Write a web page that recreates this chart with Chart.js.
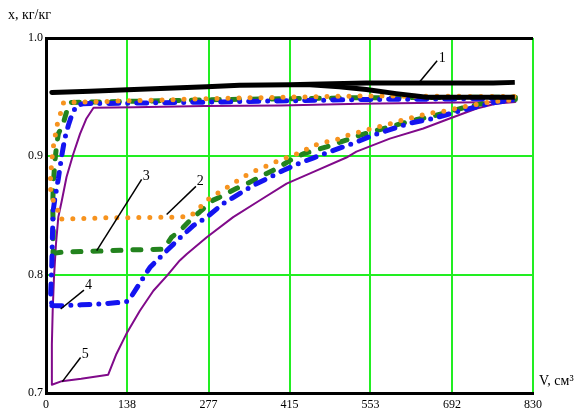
<!DOCTYPE html>
<html><head><meta charset="utf-8">
<script src="https://cdn.jsdelivr.net/npm/chart.js@4"></script>
<style>html,body{margin:0;padding:0;background:#fff}canvas{display:block}</style>
</head><body>
<canvas id="c" width="581" height="412"></canvas>
<script>
// axis ticks
const xTicks = [0, 138, 277, 415, 553, 692, 830];
const yTicks = [0.7, 0.8, 0.9, 1.0];
const yTickLabels = ['0.7', '0.8', '0.9', '1.0'];

// curve 1 (black): lower branch from right to left, then upper branch left to right
const c1V = [799, 649, 597, 546, 500, 450, 416, 330, 274, 150, 75, 10, 75, 150, 274, 330, 416, 450, 546, 608, 762, 799];
const c1X = [0.950, 0.950, 0.953, 0.9565, 0.9588, 0.9605, 0.9605, 0.960, 0.9588, 0.9565, 0.955, 0.954, 0.955, 0.9565, 0.9588, 0.960, 0.9605, 0.961, 0.962, 0.962, 0.962, 0.9625];

// curve 2 (orange, dotted)
const c2V = [27, 100, 208, 245, 257, 274, 293, 316, 336, 356, 376, 395, 416, 436, 455, 475, 495, 515, 535, 555, 575, 597, 617, 634, 657, 677, 694, 714, 734, 756, 800, 800, 535, 300, 150, 30, 24, 18, 15, 11.4, 8, 7, 10, 27];
const c2X = [0.847, 0.848, 0.8485, 0.849, 0.854, 0.863, 0.869, 0.876, 0.8825, 0.8876, 0.8918, 0.896, 0.900, 0.9037, 0.909, 0.912, 0.914, 0.9178, 0.9206, 0.9235, 0.926, 0.929, 0.932, 0.934, 0.9367, 0.938, 0.940, 0.942, 0.944, 0.946, 0.948, 0.9505, 0.951, 0.949, 0.947, 0.9455, 0.935, 0.925, 0.915, 0.905, 0.884, 0.875, 0.8655, 0.847];

// curve 3 (green, dashed)
const c3V = [12, 27, 92, 150, 200, 214, 228, 251, 262, 285, 296, 325, 347, 370, 393, 416, 438, 478, 501, 540, 586, 626, 665, 711, 745, 800, 800, 535, 300, 150, 41, 35, 29.5, 21, 18, 15, 12.4, 11.4, 12.4, 12];
const c3X = [0.818, 0.819, 0.820, 0.821, 0.8215, 0.8316, 0.837, 0.8486, 0.853, 0.863, 0.8655, 0.873, 0.878, 0.884, 0.8896, 0.8966, 0.902, 0.908, 0.912, 0.9186, 0.925, 0.9305, 0.9347, 0.941, 0.9447, 0.948, 0.950, 0.9495, 0.948, 0.9465, 0.9455, 0.9375, 0.928, 0.919, 0.909, 0.895, 0.8755, 0.858, 0.839, 0.818];

// curve 4 (blue, dash-dot)
const c4V = [10, 21, 60, 100, 137, 146, 160, 177, 200, 226, 251, 274, 302, 325, 353, 376, 404, 430, 455, 484, 529, 558, 586, 620, 660, 700, 734, 756, 800, 800, 700, 535, 300, 150, 64, 52, 44, 38, 32, 27, 21, 15, 12, 11, 10, 8, 10];
const c4X = [0.774, 0.7737, 0.7745, 0.7755, 0.777, 0.782, 0.793, 0.806, 0.8175, 0.830, 0.8415, 0.8486, 0.860, 0.867, 0.8754, 0.881, 0.888, 0.8938, 0.8985, 0.904, 0.912, 0.918, 0.9226, 0.928, 0.932, 0.9376, 0.9418, 0.9447, 0.948, 0.949, 0.9485, 0.948, 0.946, 0.945, 0.9445, 0.943, 0.935, 0.926, 0.915, 0.901, 0.881, 0.864, 0.853, 0.833, 0.810, 0.784, 0.774];

// curve 5 (purple, solid thin)
const c5V = [10, 27, 60, 106, 120, 137, 160, 183, 206, 228, 240, 274, 319, 364, 410, 455, 512, 529, 586, 643, 688, 734, 768, 800, 700, 535, 400, 270, 150, 81, 69, 58, 46.5, 35, 27, 21, 17, 13.6, 11.4, 10, 10];
const c5X = [0.707, 0.710, 0.712, 0.7155, 0.733, 0.750, 0.7695, 0.7864, 0.799, 0.812, 0.8175, 0.8316, 0.8486, 0.8627, 0.877, 0.8867, 0.899, 0.904, 0.915, 0.9235, 0.932, 0.9404, 0.9447, 0.946, 0.9455, 0.9445, 0.943, 0.9425, 0.9415, 0.941, 0.932, 0.919, 0.902, 0.8825, 0.8627, 0.8486, 0.826, 0.7977, 0.7695, 0.741, 0.707];

// curve numbers: leader line (from -> to) and label anchor, in data units
const annText = ['1', '2', '3', '4', '5'];
const annFromV = [637, 205.6, 86.4, 25, 27.8];
const annFromX = [0.963, 0.8508, 0.8203, 0.771, 0.7096];
const annToV = [666.6, 255.5, 163, 64.7, 59];
const annToX = [0.9808, 0.8746, 0.8805, 0.787, 0.730];
const annLabelV = [669.5, 257, 165, 66.4, 61];
const annLabelX = [0.9825, 0.8788, 0.883, 0.7907, 0.7326];

const pts = (v, x) => v.map((a, i) => ({x: a, y: x[i]}));
const SERIF = '"Liberation Serif", "Times New Roman", serif';
const GRID = '#22ee22';

const annPlugin = {
  id: 'ann',
  afterDatasetsDraw(chart) {
    const {ctx, chartArea} = chart;
    const xs = chart.scales.x, ys = chart.scales.y;
    ctx.save();
    ctx.strokeStyle = '#000';
    ctx.lineWidth = 1.5;
    ctx.fillStyle = '#000';
    ctx.font = '14px ' + SERIF;
    ctx.textBaseline = 'middle';
    ctx.textAlign = 'left';
    for (let i = 0; i < annText.length; i++) {
      ctx.beginPath();
      ctx.moveTo(xs.getPixelForValue(annFromV[i]), ys.getPixelForValue(annFromX[i]));
      ctx.lineTo(xs.getPixelForValue(annToV[i]), ys.getPixelForValue(annToX[i]));
      ctx.stroke();
      ctx.fillText(annText[i], xs.getPixelForValue(annLabelV[i]), ys.getPixelForValue(annLabelX[i]));
    }
    ctx.fillText('x, кг/кг', chartArea.left - 38, chartArea.top - 23);
    ctx.fillText('V, см³', chartArea.right + 6, chartArea.bottom - 12);
    ctx.restore();
  }
};

const common = {pointRadius: 0, fill: false, tension: 0, borderJoinStyle: 'round'};

new Chart(document.getElementById('c'), {
  type: 'line',
  data: {
    datasets: [
      {...common, label: '1', data: pts(c1V, c1X), borderColor: '#000', borderWidth: 5, order: 0},
      {...common, label: '2', data: pts(c2V, c2X), borderColor: '#f7931e', borderWidth: 5, borderDash: [0, 11], borderCapStyle: 'round', order: 1},
      {...common, label: '4', data: pts(c4V, c4X), borderColor: '#1414f0', borderWidth: 5, borderDash: [10, 9, 0, 9], borderCapStyle: 'round', order: 2},
      {...common, label: '3', data: pts(c3V, c3X), borderColor: '#23831e', borderWidth: 5, borderDash: [8, 12], borderCapStyle: 'round', order: 3},
      {...common, label: '5', data: pts(c5V, c5X), borderColor: '#800a8a', borderWidth: 2, order: 4}
    ]
  },
  options: {
    responsive: false,
    animation: false,
    layout: {padding: {top: 38, right: 48, left: 0, bottom: 0}},
    plugins: {legend: {display: false}, tooltip: {enabled: false}},
    scales: {
      x: {
        type: 'linear', min: 0, max: 830,
        afterBuildTicks: s => { s.ticks = xTicks.map(v => ({value: v})); },
        afterFit: s => { s.height = 19; },
        ticks: {font: {family: SERIF, size: 12}, color: '#000', padding: 5, maxRotation: 0, autoSkip: false,
          callback: v => String(v)},
        grid: {drawTicks: false, lineWidth: 2,
          color: c => c.tick && c.tick.value === 0 ? 'rgba(0,0,0,0)' : GRID},
        border: {display: true, color: '#000', width: 3}
      },
      y: {
        type: 'linear', min: 0.7, max: 1.0,
        afterBuildTicks: s => { s.ticks = yTicks.map(v => ({value: v})); },
        afterFit: s => { s.width = 46; },
        ticks: {font: {family: SERIF, size: 12}, color: '#000', padding: 3, autoSkip: false,
          callback: (v) => { const i = yTicks.findIndex(t => Math.abs(t - v) < 1e-9); return i >= 0 ? yTickLabels[i] : ''; }},
        grid: {drawTicks: false,
          lineWidth: c => c.tick && Math.abs(c.tick.value - 1.0) < 1e-9 ? 3 : 2,
          color: c => {
            if (!c.tick) return GRID;
            if (Math.abs(c.tick.value - 0.7) < 1e-9) return 'rgba(0,0,0,0)';
            if (Math.abs(c.tick.value - 1.0) < 1e-9) return '#000';
            return GRID;
          }},
        border: {display: true, color: '#000', width: 3}
      }
    }
  },
  plugins: [annPlugin]
});
</script>
</body></html>
